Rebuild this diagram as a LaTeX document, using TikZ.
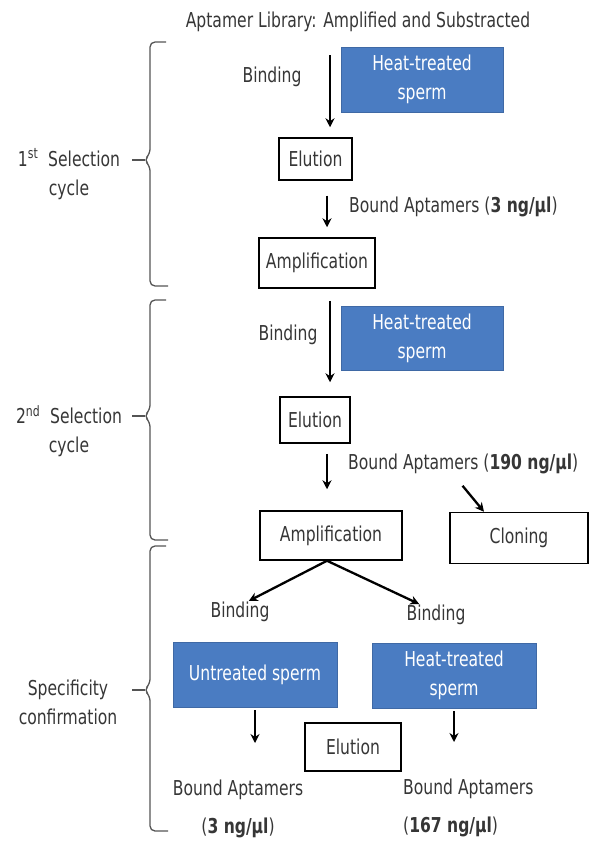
\documentclass[tikz,border=0pt]{standalone}
\usepackage{fontspec}
\setmainfont[FakeStretch=0.76]{DejaVu Sans}
\usetikzlibrary{arrows.meta}
\definecolor{cell blue}{HTML}{4A7CC2}
\definecolor{text grey}{HTML}{363636}
\tikzset{stage/.style={draw=black, line width=1.5pt, fill=white, text=text grey, inner sep=0pt},
	spermbox/.style={draw=cell blue!85!black, line width=0.8pt, fill=cell blue, text=white, align=center, inner sep=0pt},
	tag/.style={text=text grey, inner sep=0pt},
	flow/.style={-{Stealth[length=9pt,width=9pt]}, line width=2.3pt},
	bracket/.style={line width=1.3pt, draw=text grey!85, rounded corners=5pt}}
\newcommand{\cyclebrace}[3]{\draw[bracket] (166,#1) -- (150,#1) -- (150,#2-6) -- (144,#2) -- (150,#2+6) -- (150,#3) -- (168,#3);
	\draw[bracket] (132,#2) -- (145,#2);}

\begin{document}
\begin{tikzpicture}[x=1pt,y=-1pt, font=\fontsize{20.5}{29}\selectfont]
		\useasboundingbox (0,0) rectangle (590,842);
		% first selection cycle
		\node[tag] (title) at (358,22) {Aptamer Library: Amplified and Substracted};
		\node[tag] (bind1) at (272,77) {Binding};
		\node[spermbox, minimum width=162pt, minimum height=65pt] (heat1) at (422,79.5) {Heat-treated\\sperm};
		\node[stage, minimum width=73pt, minimum height=42pt] (elu1) at (315.5,159) {Elution};
		\node[tag, anchor=west] (bound1) at (349,207) {Bound Aptamers (\textbf{3 ng/µl})};
		\node[stage, minimum width=116pt, minimum height=50pt] (amp1) at (317,263) {Amplification};
		\draw[flow, shorten <=23pt, shorten >=10pt] ([xshift=-28pt]title.south) -- ([xshift=14.5pt]elu1.north);
		\draw[flow, shorten <=15pt, shorten >=10pt] ([xshift=11.5pt]elu1.south) -- ([xshift=10pt]amp1.north);
		
		% second selection cycle
		\node[tag] (bind2) at (288,335) {Binding};
		\node[spermbox, minimum width=162pt, minimum height=64pt] (heat2) at (422,338) {Heat-treated\\sperm};
		\node[stage, minimum width=70pt, minimum height=46pt] (elu2) at (315,420) {Elution};
		\node[tag, anchor=west] (bound2) at (348,464) {Bound Aptamers (\textbf{190 ng/µl})};
		\node[stage, minimum width=142pt, minimum height=49pt] (amp2) at (331,535.5) {Amplification};
		\node[stage, minimum width=138pt, minimum height=51pt] (clon) at (519,538) {Cloning};
		\draw[flow, shorten <=12pt, shorten >=14pt] ([xshift=13pt]amp1.south) -- ([xshift=15pt]elu2.north);
		\draw[flow, shorten <=10pt, shorten >=21pt] ([xshift=12pt]elu2.south) -- ([xshift=-4pt]amp2.north);
		\draw[flow, shorten <=15pt] ([xshift=105pt]bound2.south west) -- ([xshift=-35pt]clon.north);
		
		% specificity confirmation
		\node[tag] (bindL) at (240,612) {Binding};
		\node[tag] (bindR) at (436,615) {Binding};
		\node[spermbox, minimum width=164pt, minimum height=65pt] (untr) at (255,674.5) {Untreated sperm};
		\node[spermbox, minimum width=164pt, minimum height=65pt] (heat3) at (454,675.5) {Heat-treated\\sperm};
		\node[stage, minimum width=96pt, minimum height=48pt] (elu3) at (353,747) {Elution};
		\node[tag, align=center, anchor=north] (boundL) at (238,780) {Bound Aptamers\\[9pt](\textbf{3 ng/µl})};
		\node[tag, align=left, anchor=north west] (boundR) at (403,779) {Bound Aptamers\\[9pt](\textbf{167 ng/µl})};
		\draw[flow, shorten >=2pt] ([xshift=-4pt]amp2.south) -- ([xshift=7pt]bindL.north);
		\draw[flow, shorten >=2pt] ([xshift=-4pt]amp2.south) -- ([xshift=-15pt]bindR.north);
		\draw[flow, shorten <=3pt, shorten >=37pt] (untr.south) -- (untr.south |- boundL.north);
		\draw[flow, shorten <=3pt, shorten >=37pt] (heat3.south) -- (heat3.south |- boundR.north);
		
		% brackets and their labels
		\cyclebrace{42}{160}{286}
		\cyclebrace{300}{416}{540}
		\cyclebrace{546}{690}{831}
		\node[tag, align=center] (cyc1) at (69,174) {1\textsuperscript{st}\ \ Selection\\cycle};
		\node[tag, align=center] (cyc2) at (69,431) {2\textsuperscript{nd}\ \ Selection\\cycle};
		\node[tag, align=center] (spec) at (68,702) {Specificity\\confirmation};
\end{tikzpicture}
\end{document}
